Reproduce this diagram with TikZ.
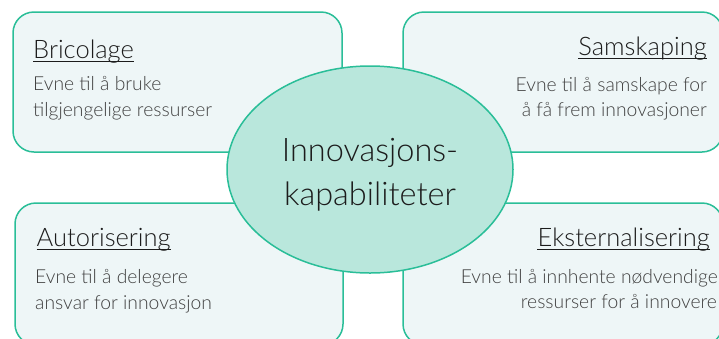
\documentclass[tikz,border=0pt]{standalone}
\usepackage{fontspec}
\setmainfont{Lato}[UprightFont={* Light}]
\definecolor{boxfill}{RGB}{238,246,247}
\definecolor{teal}{RGB}{42,190,152}
\definecolor{ellfill}{RGB}{185,231,220}
\definecolor{titlecol}{RGB}{28,28,28}
\definecolor{desccol}{RGB}{64,64,64}
\tikzset{
  capbox/.style={draw=teal, fill=boxfill, line width=1.5pt, rounded corners=21pt, inner sep=0pt},
  ttl/.style={inner sep=0pt, text=titlecol, font=\fontsize{25.5}{30}\selectfont},
  dsc/.style={inner sep=0pt, text=desccol, font=\fontsize{19.3}{26}\selectfont},
  uline/.style={draw=titlecol, line width=1pt},
  core/.style={ellipse, draw=teal, fill=ellfill, line width=1.5pt, minimum width=286pt, minimum height=207pt, inner sep=0pt},
  coretext/.style={inner sep=0pt, text=titlecol, font=\fontsize{32.5}{44}\selectfont, anchor=base}
}
\usetikzlibrary{shapes.geometric}
\begin{document}
\begin{tikzpicture}[x=1pt,y=-1pt]
\useasboundingbox (0,0) rectangle (719,338);
\clip (0,0) rectangle (719,338);
% boxes
\node[capbox, minimum width=329pt, minimum height=140pt] (bTL) at (177.5,82) {};
\node[capbox, minimum width=320pt, minimum height=140pt] (bTR) at (563,82) {};
\node[capbox, minimum width=328pt, minimum height=142pt] (bBL) at (179,274) {};
\node[capbox, minimum width=320pt, minimum height=142pt] (bBR) at (563,274) {};
% top-left
\node[ttl, anchor=base west] (tTL) at (33,58.5) {Bricolage};
\node[dsc, anchor=base west] (dTL1) at (33,90.7) {Evne til å bruke};
\node[dsc, anchor=base west] (dTL2) at (33,116.7) {tilgjengelige ressurser};
% top-right
\node[ttl, anchor=base east] (tTR) at (707,55) {Samskaping};
\node[dsc, anchor=base east] (dTR1) at (707,91.5) {Evne til å samskape for};
\node[dsc, anchor=base east] (dTR2) at (707,116.5) {å få frem innovasjoner};
% bottom-left
\node[ttl, anchor=base west] (tBL) at (36.5,246) {Autorisering};
\node[dsc, anchor=base west] (dBL1) at (35,283.3) {Evne til å delegere};
\node[dsc, anchor=base west] (dBL2) at (35,309.3) {ansvar for innovasjon};
% bottom-right
\node[ttl, anchor=base east] (tBR) at (710,246) {Eksternalisering};
\node[dsc, anchor=base east] (dBR1) at (718,283) {Evne til å innhente nødvendige};
\node[dsc, anchor=base east] (dBR2) at (717,308.5) {ressurser for å innovere};
% underlines
\draw[uline] ([yshift=-3pt]tTL.base west) -- ([yshift=-3pt]tTL.base east);
\draw[uline] ([yshift=-3pt]tTR.base west) -- ([yshift=-3pt]tTR.base east);
\draw[uline] ([yshift=-3pt]tBL.base west) -- ([yshift=-3pt]tBL.base east);
\draw[uline] ([yshift=-3pt]tBR.base west) -- ([yshift=-3pt]tBR.base east);
% centre
\node[core] (core) at (370,169.5) {};
\node[coretext] (c1) at (370,161) {Innovasjons-};
\node[coretext] (c2) at (370,205) {kapabiliteter};
\end{tikzpicture}
\end{document}
